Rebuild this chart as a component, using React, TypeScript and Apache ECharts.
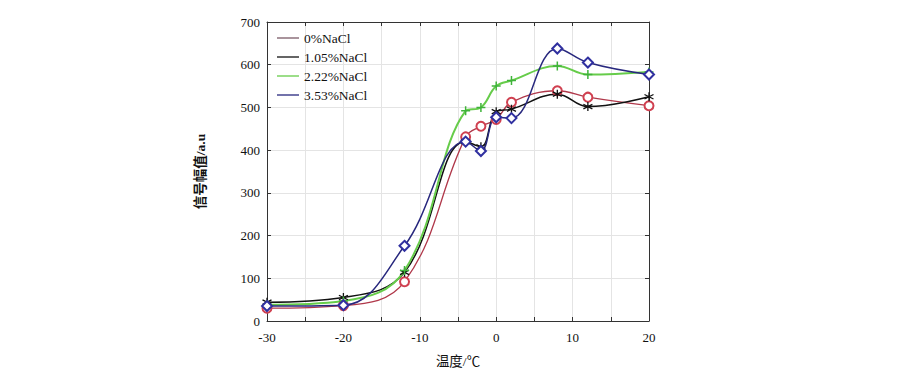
import React, { useEffect, useRef } from "react";
import * as echarts from "echarts";

const temps = [-30, -20, -12, -4, -2, 0, 2, 8, 12, 20];
const nacl0 = [30, 36, 92, 431, 456, 472, 512, 539, 524, 504];
const nacl105 = [44, 55, 114, 420, 408, 490, 496, 531, 502, 525];
const nacl222 = [38, 47, 118, 492, 500, 550, 563, 597, 577, 583];
const nacl353 = [35, 37, 176, 420, 398, 477, 475, 638, 605, 577];
const seriesNames = ["0%NaCl", "1.05%NaCl", "2.22%NaCl", "3.53%NaCl"];
const xTickLabels = ["-30", "-20", "-10", "0", "10", "20"];

const SERIF = "'Liberation Serif', 'Times New Roman', 'Noto Sans CJK SC', serif";

export default function App() {
  const ref = useRef<HTMLDivElement>(null);
  useEffect(() => {
    if (!ref.current) return;
    const chart = echarts.init(ref.current, null, { renderer: "svg" });
    const pairs = (vals: number[]) => temps.map((t, i) => [t, vals[i]]);
    const asterisk = "path://M0,-5L0,5M-4.33,-2.5L4.33,2.5M-4.33,2.5L4.33,-2.5";
    const plus = "path://M-5,0L5,0M0,-5L0,5";
    const lineColors = ["#b0384a", "#111111", "#66cc4a", "#28287e"];
    const legendColors = ["#7a5a66", "#111111", "#66cc4a", "#28287e"];
    const common = {
      type: "line",
      smooth: 0.4,
      symbolSize: 9,
      xAxisIndex: 0,
      yAxisIndex: 0,
    };
    chart.setOption({
      animation: false,
      backgroundColor: "#ffffff",
      textStyle: { fontFamily: SERIF },
      grid: { left: 267, right: 251, top: 22, bottom: 55, containLabel: false },
      legend: {
        orient: "vertical",
        left: 272,
        top: 26,
        icon: "rect",
        itemWidth: 22,
        itemHeight: 1.3,
        itemGap: 5,
        itemStyle: { borderWidth: 0 },
        textStyle: { fontFamily: SERIF, fontSize: 13.5, color: "#111", lineHeight: 14 },
        data: seriesNames.map((n, i) => ({
          name: n,
          itemStyle: { color: legendColors[i], borderWidth: 0 },
        })),
      },
      xAxis: [
        {
          type: "value",
          min: -30,
          max: 20,
          interval: 5,
          position: "bottom",
          name: "温度/℃",
          nameLocation: "middle",
          nameGap: 34,
          nameTextStyle: { fontFamily: SERIF, fontSize: 13.5, color: "#111" },
          axisLine: { show: true, onZero: false, lineStyle: { color: "#333", width: 1 } },
          axisTick: { show: true, inside: true, length: 4, lineStyle: { color: "#333" } },
          axisLabel: {
            fontFamily: SERIF,
            fontSize: 13,
            color: "#111",
            margin: 10,
            formatter: (v: number) => (xTickLabels.includes(String(v)) ? String(v) : ""),
          },
          splitLine: { show: true, lineStyle: { color: "#e4e4e4" } },
        },
        {
          type: "value",
          min: -30,
          max: 20,
          interval: 5,
          position: "top",
          axisLine: { show: true, onZero: false, lineStyle: { color: "#333", width: 1 } },
          axisTick: { show: true, inside: true, length: 4, lineStyle: { color: "#333" } },
          axisLabel: { show: false },
          splitLine: { show: false },
        },
      ],
      yAxis: [
        {
          type: "value",
          min: 0,
          max: 700,
          interval: 100,
          position: "left",
          name: "信号幅值/a.u",
          nameLocation: "middle",
          nameGap: 60,
          nameTextStyle: { fontFamily: SERIF, fontSize: 13.5, color: "#111", fontWeight: "bold" },
          axisLine: { show: true, onZero: false, lineStyle: { color: "#333", width: 1 } },
          axisTick: { show: true, inside: true, length: 4, lineStyle: { color: "#333" } },
          axisLabel: { fontFamily: SERIF, fontSize: 13, color: "#111", margin: 7 },
          splitLine: { show: true, lineStyle: { color: "#e4e4e4" } },
        },
        {
          type: "value",
          min: 0,
          max: 700,
          interval: 100,
          position: "right",
          axisLine: { show: true, onZero: false, lineStyle: { color: "#333", width: 1 } },
          axisTick: { show: true, inside: true, length: 4, lineStyle: { color: "#333" } },
          axisLabel: { show: false },
          splitLine: { show: false },
        },
      ],
      series: [
        {
          ...common,
          name: seriesNames[0],
          data: pairs(nacl0),
          symbol: "emptyCircle",
          lineStyle: { color: lineColors[0], width: 1.3 },
          itemStyle: { color: "#d04050", borderColor: "#d04050", borderWidth: 1.2 },
        },
        {
          ...common,
          name: seriesNames[1],
          data: pairs(nacl105),
          symbol: asterisk,
          lineStyle: { color: lineColors[1], width: 1.5 },
          itemStyle: { color: "#111", borderColor: "#111", borderWidth: 1.3 },
        },
        {
          ...common,
          name: seriesNames[2],
          data: pairs(nacl222),
          symbol: plus,
          lineStyle: { color: lineColors[2], width: 2 },
          itemStyle: { color: "#3fb33a", borderColor: "#3fb33a", borderWidth: 1.5 },
        },
        {
          ...common,
          name: seriesNames[3],
          data: pairs(nacl353),
          symbol: "emptyDiamond",
          symbolSize: 10,
          lineStyle: { color: lineColors[3], width: 1.5 },
          itemStyle: { color: "#3030a0", borderColor: "#3030a0", borderWidth: 1.2 },
        },
      ],
    });
    return () => chart.dispose();
  }, []);
  return (
    <div
      ref={ref}
      style={{ position: "fixed", left: 0, top: 0, width: 900, height: 376, background: "#fff" }}
    />
  );
}
